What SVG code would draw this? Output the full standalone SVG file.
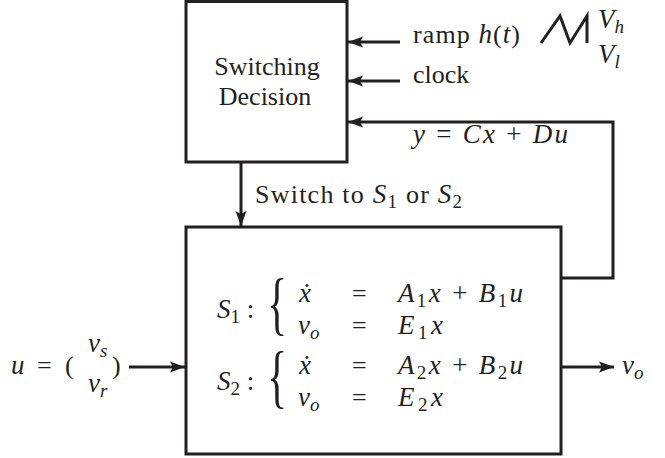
<svg xmlns="http://www.w3.org/2000/svg" width="665" height="458" viewBox="0 0 665 458">
<defs>
<marker id="ah" markerUnits="userSpaceOnUse" markerWidth="16" markerHeight="12" refX="15" refY="6" orient="auto">
<path d="M0,0.5 L15,6 L0,11.5 L3,6 z" fill="#231f20"/>
</marker>
</defs>
<style>
.ln{fill:none;stroke:#231f20;stroke-width:3}
.box{fill:#fff;stroke:#231f20;stroke-width:3}
.t{font-family:"Liberation Serif","Times New Roman",serif;font-size:26px;fill:#231f20}
.m{font-family:"Liberation Serif","Times New Roman",serif;font-style:italic;font-size:27px;fill:#231f20}
.r{font-style:normal}
.sub{font-size:19px}
.br{font-family:"Liberation Serif","Times New Roman",serif;font-size:70px;fill:#231f20}
</style>
<g id="connectors">
<line class="ln" x1="400" y1="42" x2="348" y2="42" marker-end="url(#ah)"/>
<line class="ln" x1="400" y1="81" x2="348" y2="81" marker-end="url(#ah)"/>
<polyline class="ln" points="561,278 613,278 613,122 348,122" marker-end="url(#ah)"/>
<line class="ln" x1="241" y1="162" x2="241" y2="226" marker-end="url(#ah)"/>
<line class="ln" x1="129" y1="367" x2="185" y2="367" marker-end="url(#ah)"/>
<line class="ln" x1="561" y1="367" x2="614" y2="367" marker-end="url(#ah)"/>
</g>
<g id="decision">
<rect class="box" x="186" y="1.5" width="161" height="160.5"/>
<text class="t" x="267" y="75" text-anchor="middle">Switching</text>
<text class="t" x="265" y="105" text-anchor="middle">Decision</text>
</g>
<g id="ramp">
<text class="t" x="413" y="43" textLength="107" lengthAdjust="spacing">ramp <tspan class="m">h</tspan>(<tspan class="m">t</tspan>)</text>
<polyline fill="none" stroke="#231f20" stroke-width="3" stroke-linejoin="miter" points="541,43 560,16 570,43 587,16 587,43"/>
<text class="m" x="598" y="28">V<tspan class="sub" dy="5">h</tspan></text>
<text class="m" x="598" y="63">V<tspan class="sub" dy="5">l</tspan></text>
</g>
<g id="clock">
<text class="t" x="413" y="83">clock</text>
</g>
<g id="feedback-label">
<text class="m" x="413" y="143" textLength="155" lengthAdjust="spacing">y <tspan class="r">=</tspan> Cx <tspan class="r">+</tspan> Du</text>
</g>
<g id="switch-label">
<text class="t" x="255" y="203" textLength="207" lengthAdjust="spacing">Switch to <tspan class="m">S</tspan><tspan class="sub" dy="5">1</tspan><tspan dy="-5"> or </tspan><tspan class="m">S</tspan><tspan class="sub" dy="5">2</tspan></text>
</g>
<g id="plant">
<rect class="box" x="186" y="227" width="375" height="227"/>
<text class="m" x="217" y="318">S<tspan class="sub r" dy="5">1</tspan><tspan class="r" dy="-5"> :</tspan></text>
<text class="br" transform="translate(267,327) scale(0.6,1)">{</text>
<text class="m" x="299" y="302">ẋ</text>
<text class="t" x="352" y="302">=</text>
<text class="m" x="398" y="302" textLength="125" lengthAdjust="spacing">A<tspan class="sub r" dy="5">1</tspan><tspan dy="-5">x </tspan><tspan class="r">+</tspan> B<tspan class="sub r" dy="5">1</tspan><tspan dy="-5">u</tspan></text>
<text class="m" x="298" y="334">v<tspan class="sub" dy="5">o</tspan></text>
<text class="t" x="352" y="334">=</text>
<text class="m" x="398" y="334" textLength="45" lengthAdjust="spacing">E<tspan class="sub r" dy="5">1</tspan><tspan dy="-5">x</tspan></text>
<text class="m" x="217" y="390">S<tspan class="sub r" dy="5">2</tspan><tspan class="r" dy="-5"> :</tspan></text>
<text class="br" transform="translate(267,400) scale(0.6,1)">{</text>
<text class="m" x="299" y="374">ẋ</text>
<text class="t" x="352" y="374">=</text>
<text class="m" x="398" y="374" textLength="125" lengthAdjust="spacing">A<tspan class="sub r" dy="5">2</tspan><tspan dy="-5">x </tspan><tspan class="r">+</tspan> B<tspan class="sub r" dy="5">2</tspan><tspan dy="-5">u</tspan></text>
<text class="m" x="298" y="406">v<tspan class="sub" dy="5">o</tspan></text>
<text class="t" x="352" y="406">=</text>
<text class="m" x="398" y="406" textLength="45" lengthAdjust="spacing">E<tspan class="sub r" dy="5">2</tspan><tspan dy="-5">x</tspan></text>
</g>
<g id="input">
<text class="m" x="11" y="374">u</text>
<text class="t" x="37" y="374">=</text>
<text class="t" x="65" y="374">(</text>
<text class="m" x="88" y="352">v<tspan class="sub" dy="5">s</tspan></text>
<text class="m" x="88" y="392">v<tspan class="sub" dy="5">r</tspan></text>
<text class="t" x="112" y="374">)</text>
</g>
<g id="output">
<text class="m" x="622" y="374">v<tspan class="sub" dy="5">o</tspan></text>
</g>
</svg>
